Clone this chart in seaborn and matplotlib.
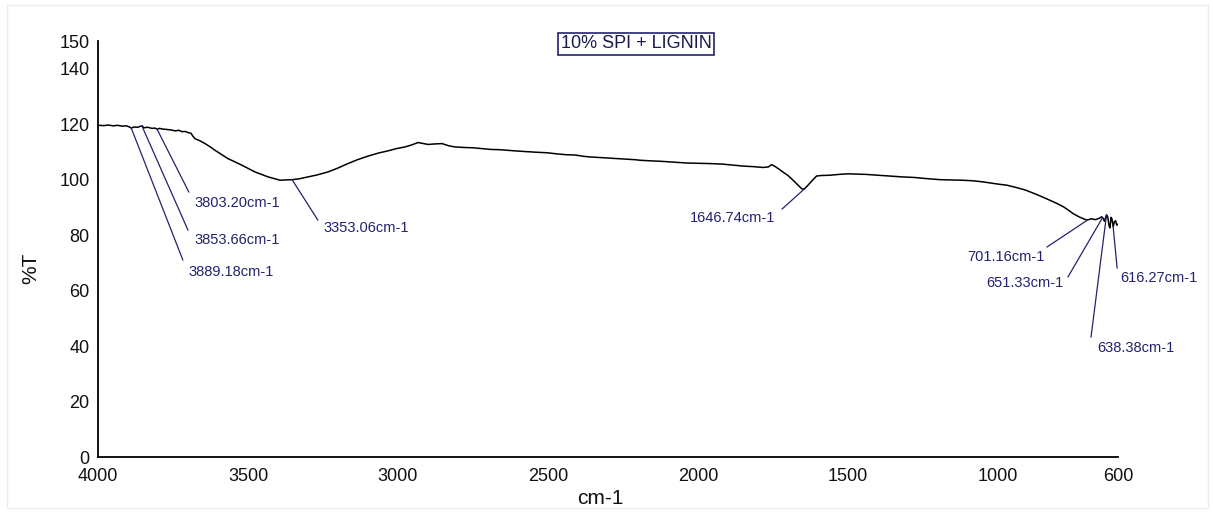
import numpy as np
import pandas as pd
import seaborn as sns
import matplotlib
matplotlib.use("Agg")
import matplotlib.pyplot as plt
from matplotlib.patches import Rectangle

# FTIR spectrum: wavenumber (cm-1) and transmittance (%T)
wavenumber = [
    4000, 3980, 3965, 3950, 3935, 3920, 3905, 3895, 3889, 3880, 3867, 3860,
    3853, 3847, 3835, 3820, 3810, 3803, 3795, 3787, 3770, 3755, 3743, 3730,
    3720, 3710, 3700, 3690, 3683, 3677, 3660, 3643, 3627, 3610, 3590, 3567,
    3545, 3520, 3500, 3477, 3455, 3433, 3413, 3393, 3373, 3353, 3330, 3300,
    3270, 3233, 3200, 3167, 3135, 3100, 3065, 3033, 3005, 2977, 2955, 2933,
    2915, 2900, 2875, 2853, 2830, 2810, 2780, 2750, 2720, 2690, 2660, 2637,
    2600, 2570, 2540, 2503, 2470, 2440, 2410, 2380, 2360, 2330, 2300, 2270,
    2240, 2210, 2193, 2160, 2120, 2080, 2037, 2000, 1960, 1917, 1880, 1850,
    1815, 1783, 1765, 1755, 1745, 1730, 1715, 1700, 1685, 1670, 1655, 1647,
    1635, 1620, 1605, 1590, 1560, 1530, 1500, 1470, 1440, 1400, 1360, 1320,
    1280, 1240, 1193, 1150, 1120, 1083, 1050, 1020, 1000, 970, 940, 910,
    893, 870, 840, 803, 780, 760, 750, 730, 715, 703, 690, 675,
    662, 655, 651, 645, 640, 638, 634, 630, 627, 623, 620, 616,
    612, 608, 604, 600,
]
transmittance = [
    119.6, 119.5, 119.7, 119.4, 119.6, 119.3, 119.4, 119.0, 118.6, 119.0, 118.9, 119.2,
    119.4, 118.7, 118.9, 118.5, 118.6, 118.2, 118.5, 118.3, 118.1, 117.9, 117.6, 117.8,
    117.3, 117.4, 117.0, 116.7, 115.6, 114.8, 114.0, 113.0, 111.9, 110.6, 109.2, 107.6,
    106.5, 105.2, 104.1, 102.8, 101.9, 101.0, 100.4, 99.8, 99.9, 100.0, 100.3, 101.0,
    101.7, 102.8, 104.2, 105.8, 107.2, 108.5, 109.6, 110.4, 111.2, 111.8, 112.5, 113.4,
    113.0, 112.7, 112.9, 113.0, 112.2, 111.8, 111.6, 111.5, 111.2, 110.9, 110.8, 110.6,
    110.3, 110.1, 109.9, 109.7, 109.3, 109.0, 108.9, 108.4, 108.2, 108.0, 107.8, 107.6,
    107.4, 107.2, 107.0, 106.8, 106.6, 106.3, 106.0, 105.9, 105.8, 105.6, 105.2, 104.9,
    104.7, 104.4, 104.6, 105.4, 104.9, 103.8, 102.6, 101.5, 100.0, 98.4, 96.8, 96.5,
    97.8, 99.6, 101.3, 101.5, 101.6, 101.9, 102.1, 102.0, 101.9, 101.6, 101.3, 101.0,
    100.8, 100.4, 100.0, 99.9, 99.8, 99.6, 99.2, 98.7, 98.4, 98.0, 97.2, 96.3,
    95.6, 94.6, 93.2, 91.4, 90.1, 88.6, 87.8, 86.6, 85.9, 85.4, 85.9, 85.6,
    86.1, 86.6, 86.3, 85.0, 86.8, 87.3, 86.5, 83.5, 82.6, 86.4, 85.8, 83.0,
    84.8, 85.2, 83.6, 84.0,
]

# Picked peaks and where their labels sit
peak_positions = [3889.18, 3853.66, 3803.20, 3353.06, 1646.74, 701.16, 651.33, 638.38, 616.27]
peak_labels = ["3889.18cm-1", "3853.66cm-1", "3803.20cm-1", "3353.06cm-1", "1646.74cm-1",
               "701.16cm-1", "651.33cm-1", "638.38cm-1", "616.27cm-1"]
leader_end_x = [3717, 3700, 3697, 3267, 1720, 837, 767, 690, 603]
leader_end_y = [71.0, 81.8, 95.5, 85.4, 89.4, 75.7, 64.9, 43.2, 68.1]
label_x = [3700, 3680, 3677, 3247, 1743, 843, 783, 670, 593]
label_y = [66.7, 78.2, 91.5, 82.5, 86.1, 72.1, 62.7, 39.3, 64.5]
label_ha = ["left", "left", "left", "left", "right", "right", "right", "left", "left"]

x_ticks = [4000, 3500, 3000, 2500, 2000, 1500, 1000, 600]
y_ticks = [0, 20, 40, 60, 80, 100, 120, 140, 150]

sample_title = "10% SPI + LIGNIN"

sns.set_theme(style="white")
plt.rcParams["font.family"] = ["Liberation Sans", "DejaVu Sans"]

df = pd.DataFrame({"wavenumber": wavenumber, "T": transmittance})

fig = plt.figure(figsize=(12.13, 5.13), dpi=100)
ax = fig.add_axes([98 / 1213, 1 - 457 / 513, (1118 - 98) / 1213, (457 - 41) / 513])

sns.lineplot(data=df, x="wavenumber", y="T", ax=ax, color="black", linewidth=1.1,
             estimator=None, sort=False)

ax.set_xlim(4000, 600)
ax.set_ylim(0, 150)
ax.set_xticks(x_ticks)
ax.set_yticks(y_ticks)
ax.set_xticklabels([str(v) for v in x_ticks], fontsize=13)
ax.set_yticklabels([str(v) for v in y_ticks], fontsize=13)
ax.tick_params(axis="x", direction="in", length=5, width=1, color="black", pad=8)
ax.tick_params(axis="y", direction="out", length=5, width=1, color="black", pad=1)
ax.tick_params(labelcolor="#111111")

for side in ("top", "right"):
    ax.spines[side].set_visible(False)
for side in ("left", "bottom"):
    ax.spines[side].set_color("black")
    ax.spines[side].set_linewidth(1.3)

ax.set_xlabel("")
ax.set_ylabel("")
fig.text(600 / 1213, 1 - 499 / 513, "cm-1", ha="center", va="center", fontsize=15, color="#111111")
fig.text(31 / 1213, 1 - 268 / 513, "%T", ha="center", va="center", rotation=90,
         fontsize=15, color="#111111")

# Peak leaders and labels
navy = "#22226e"
wn_sorted = np.array(wavenumber)[::-1]
t_sorted = np.array(transmittance)[::-1]
for pos, lab, ex, ey, tx, ty, ha in zip(peak_positions, peak_labels, leader_end_x, leader_end_y,
                                        label_x, label_y, label_ha):
    py = float(np.interp(pos, wn_sorted, t_sorted))
    ax.plot([pos, ex], [py, ey], color=navy, linewidth=0.9, clip_on=False)
    ax.text(tx, ty, lab, ha=ha, va="center", fontsize=10.5, color=navy, clip_on=False)

# Sample name in a framed box
fig.text(636 / 1213, 1 - 44 / 513, sample_title, ha="center", va="center", fontsize=13,
         color="#1a1a4a",
         bbox=dict(boxstyle="square,pad=0.12", facecolor="white", edgecolor="#23236e", linewidth=1.2))

# Faint outer frame
fig.patches.append(Rectangle((7 / 1213, 5 / 513), 1 - 12 / 1213, 1 - 10 / 513,
                             transform=fig.transFigure, fill=False, edgecolor="#ececec",
                             linewidth=1.0))

fig.savefig("out.png", dpi=100, facecolor="white")
